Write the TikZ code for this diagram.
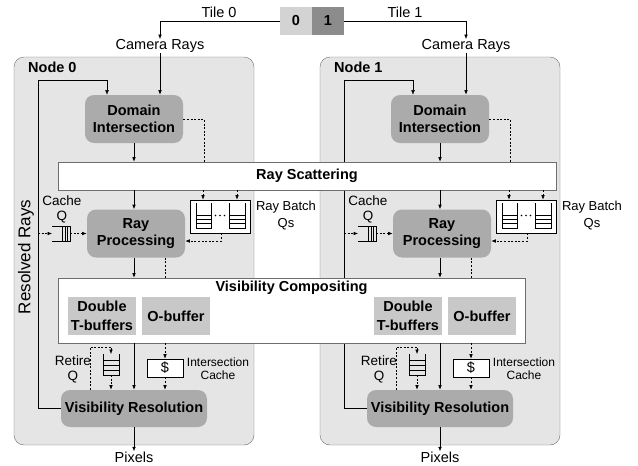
\documentclass[tikz,border=0pt]{standalone}
\usepackage{fontspec}
\setmainfont{Liberation Sans}
\usetikzlibrary{arrows.meta}
\definecolor{bggray}{HTML}{E5E5E5}
\definecolor{procgray}{HTML}{ABABAB}
\definecolor{bufgray}{HTML}{C8C8C8}
\definecolor{edgegray}{HTML}{6E6E6E}
\definecolor{tilea}{HTML}{D3D3D3}
\definecolor{tileb}{HTML}{8C8C8C}
\pgfdeclarelayer{bgA}
\pgfdeclarelayer{bgB}
\pgfsetlayers{bgA,bgB,main}
\begin{document}
\begin{tikzpicture}[x=1pt,y=-1pt,
  font=\fontsize{14.5}{17}\selectfont, line width=0.6pt,
  arr/.style={-{Latex[length=4.5pt,width=3.6pt]}},
  dsh/.style={dash pattern=on 2pt off 1.6pt},
  nodebg/.style={draw=edgegray, fill=bggray, rounded corners=10pt, inner sep=0pt},
  proc/.style={fill=procgray, rounded corners=9pt, font=\fontsize{14.5}{17.5}\selectfont\bfseries, align=center, inner sep=0pt},
  wbox/.style={draw=edgegray, fill=white, inner sep=0pt},
  buf/.style={fill=bufgray, font=\fontsize{14.5}{18.5}\selectfont\bfseries, align=center, inner sep=0pt, minimum width=68pt, minimum height=38pt},
  lbl/.style={font=\fontsize{13.5}{15}\selectfont, align=center, inner sep=0pt},
  slbl/.style={font=\fontsize{12}{13.5}\selectfont, align=center, inner sep=0pt},
  plain/.style={inner sep=0pt}]
\useasboundingbox (0,0) rectangle (638,466);

% node backgrounds
\foreach \i in {0,1}{
  \begin{scope}[xshift=\i*306pt]
  \begin{pgfonlayer}{bgA}
    \node[nodebg, minimum width=240pt, minimum height=388pt] (n\i) at (134,251) {};
  \end{pgfonlayer}
  \node[plain, anchor=west, font=\fontsize{14.5}{17}\selectfont\bfseries] (nl\i) at (28,67) {Node \i};
  \end{scope}
}

% tiles
\node[plain, fill=tilea, minimum width=32pt, minimum height=28pt, font=\fontsize{14.5}{17}\selectfont\bfseries] (t0) at (296,21) {0};
\node[plain, fill=tileb, minimum width=32pt, minimum height=28pt, font=\fontsize{14.5}{17}\selectfont\bfseries] (t1) at (328,21) {1};
\node[plain] (tl0) at (219,12) {Tile 0};
\node[plain] (tl1) at (405,12) {Tile 1};

% shared white boxes
\node[wbox, minimum width=498pt, minimum height=28pt] (rs) at (307,176) {};
\node[plain, font=\fontsize{14.5}{17}\selectfont\bfseries] (rsl) at (rs.center) {Ray Scattering};
\node[wbox, minimum width=467pt, minimum height=65pt] (vc) at (291.5,310.5) {};
\node[plain, font=\fontsize{14.5}{17}\selectfont\bfseries] (vcl) at (291.5,288) {Visibility Compositing};

\node[plain, rotate=90, font=\fontsize{17}{19}\selectfont] (rr) at (26,257) {Resolved Rays};

\foreach \i in {0,1}{
  \begin{scope}[xshift=\i*306pt]
  \node[plain] (cam\i) at (160,46) {Camera Rays};
  \node[proc, minimum width=98pt, minimum height=48pt] (dom\i) at (134,119) {Domain\\Intersection};
  \node[proc, minimum width=98pt, minimum height=48pt] (rp\i) at (136,233.5) {Ray\\Processing};
  \node[proc, minimum width=146pt, minimum height=37pt] (vr\i) at (134,408.5) {Visibility Resolution};
  \node[buf] (db\i) at (102,316) {Double\\T-buffers};
  \node[buf] (ob\i) at (176,316) {O-buffer};
  \node[plain] (px\i) at (134,457) {Pixels};

  % ray batch queues
  \node[draw=black, fill=white, minimum width=60pt, minimum height=33pt, inner sep=0pt] (rb\i) at (220,216.5) {};
  \draw (196,203) -- (196,228) -- (211,228) -- (211,203);
  \foreach \yy in {215,219,223} \draw (196,\yy) -- (211,\yy);
  \draw (229,203) -- (229,228) -- (245,228) -- (245,203);
  \foreach \yy in {215,219,223} \draw (229,\yy) -- (245,\yy);
  \foreach \xx in {215.5,220,224.5} \fill (\xx,215.5) circle (0.9pt);
  \node[slbl, font=\fontsize{13}{17}\selectfont] (rbl\i) at (286,216) {Ray Batch\\Qs};

  % cache queue
  \coordinate (cqw\i) at (52,233.5);
  \coordinate (cqe\i) at (70,233.5);
  \coordinate (cqs\i) at (38,233.5);
  \draw (52,226) -- (70,226) -- (70,241.5) -- (52,241.5);
  \foreach \xx in {62,65,67.5} \draw (\xx,226) -- (\xx,241.5);
  \node[lbl] (cql\i) at (62,209.5) {Cache\\Q};

  % retire queue
  \coordinate (rqt\i) at (111,354);
  \coordinate (rqb\i) at (111,375);
  \draw (103,354) -- (103,375) -- (119,375) -- (119,354);
  \foreach \yy in {360,365,370} \draw (103,\yy) -- (119,\yy);
  \node[lbl] (rql\i) at (73,369.5) {Retire\\Q};

  % intersection cache
  \node[draw=black, fill=white, minimum width=36pt, minimum height=18pt, inner sep=0pt] (ic\i) at (165,368) {\$};
  \node[slbl] (icl\i) at (218,368.5) {Intersection\\Cache};

  % connectors
  \draw[arr] (cam\i.south) -- (dom\i.north -| cam\i.south);
  \draw[arr] (dom\i.south) -- (rs.north -| dom\i.south);
  \draw[dsh] (dom\i.east) -| (rs.north -| 204,0);
  \draw[arr] (rs.south -| dom\i.south) -- (rp\i.north -| dom\i.south);
  \draw[arr,dsh] (rs.south -| 203,0) -- (rb\i.north -| 203,0);
  \draw[arr,dsh] (rs.south -| 237,0) -- (rb\i.north -| 237,0);
  \draw[arr,dsh] (rb\i.south -| 221,0) |- (rp\i.east |- 0,241);
  \draw[arr,dsh] (cqs\i) -- (cqw\i);
  \draw[arr,dsh] (cqe\i) -- (rp\i.west |- cqe\i);
  \draw[arr] (rp\i.south -| dom\i.south) -- (vc.north -| dom\i.south);
  \draw[dsh] (rp\i.south -| 165,0) -- (vc.north -| 165,0);
  \draw[arr] (vc.south -| dom\i.south) -- (vr\i.north -| dom\i.south);
  \draw[arr,dsh] (vc.south -| ic\i.north) -- (ic\i.north);
  \draw[arr,dsh] (ic\i.south) -- (vr\i.north -| ic\i.south);
  \draw[arr,dsh] (vr\i.north -| 90,0) |- (rqt\i |- 0,347) -- (rqt\i);
  \draw[arr,dsh] (rqb\i) -- (vr\i.north -| rqb\i);
  \draw[arr] (vr\i.south) -- (px\i.north);

  \coordinate (lt\i) at (107,80);
  \begin{pgfonlayer}{bgB}
    \draw[arr] (vr\i.west) -- (38,408.5) -- (38,80) -- (lt\i) -- (lt\i |- dom\i.north);
  \end{pgfonlayer}
  \end{scope}
}

\draw[arr] (t0.west) -| (cam0.north);
\draw[arr] (t1.east) -| (cam1.north);
\end{tikzpicture}
\end{document}
